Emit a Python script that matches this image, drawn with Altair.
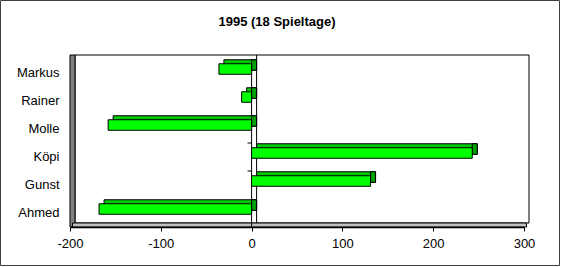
import altair as alt
import pandas as pd

# ---- data ----
players = ["Markus", "Rainer", "Molle", "Köpi", "Gunst", "Ahmed"]
points = [-36, -11, -158, 243, 131, -168]
x_ticks = [-200, -100, 0, 100, 200, 300]
tick_players = ["Köpi", "Gunst"]
title_text = "1995 (18 Spieltage)"

df = pd.DataFrame({"player": players, "points": points})
one = alt.Chart(pd.DataFrame({"k": [0]}))
ticks_df = pd.DataFrame({"player": tick_players})

FONT = "Liberation Sans"
W, H = 454, 168
DX, DY = 5, -4
BAR = 10.5

xs = alt.Scale(domain=[x_ticks[0], x_ticks[-1]], nice=False, zero=False)
ys = alt.Scale(domain=players, paddingInner=0, paddingOuter=0)

x_axis = alt.Axis(values=x_ticks, labelExpr="'' + datum.value", title=None, grid=False,
                  domainColor="black", domainWidth=1.5, tickColor="black", tickSize=4,
                  labelPadding=6, labelFlush=False, labelFont=FONT, labelFontSize=13,
                  labelColor="black", zindex=1)
y_axis = alt.Axis(title=None, domain=False, ticks=False, grid=False, labelPadding=11,
                  labelFont=FONT, labelFontSize=13, labelColor="black", zindex=1)


def X(**kw):
    return alt.X(scale=xs, axis=x_axis, **kw)


def Y(field):
    return alt.Y(field, scale=ys, sort=players, axis=y_axis)


border = one.mark_rect(fill="white", stroke="#404040", strokeWidth=1).encode(
    x=alt.value(-69.5), x2=alt.value(489.5), y=alt.value(-58.5), y2=alt.value(206.5))

title = one.mark_text(text=title_text, font=FONT, fontSize=13, fontWeight="bold",
                      align="center", baseline="alphabetic", color="black").encode(
    x=alt.value(207), y=alt.value(-33))

back_wall = one.mark_rect(fill="white", stroke="black", strokeWidth=1,
                          xOffset=DX, x2Offset=DX, yOffset=DY, y2Offset=DY).encode(
    x=X(datum=x_ticks[0], type="quantitative"),
    x2=alt.X2(datum=x_ticks[-1]), y=alt.value(0), y2=alt.value(H))

floor = one.mark_rect(fill="#c0c0c0", stroke="black", strokeWidth=1,
                      xOffset=2.5, x2Offset=2.5).encode(
    x=X(datum=x_ticks[0], type="quantitative"),
    x2=alt.X2(datum=x_ticks[-1]), y=alt.value(H + DY), y2=alt.value(H))

left_wall = one.mark_rect(fill="#808080", stroke="black", strokeWidth=1,
                          x2Offset=DX, yOffset=DY).encode(
    x=X(datum=x_ticks[0], type="quantitative"),
    x2=alt.X2(datum=x_ticks[0]), y=alt.value(0), y2=alt.value(H))

zero_front = one.mark_rule(color="black", strokeWidth=1).encode(
    x=X(datum=0, type="quantitative"),
    y=alt.value(0), y2=alt.value(H))
zero_back = one.mark_rule(color="black", strokeWidth=1, xOffset=DX, yOffset=DY, y2Offset=DY).encode(
    x=X(datum=0, type="quantitative"),
    y=alt.value(0), y2=alt.value(H))

cat_ticks = alt.Chart(ticks_df).mark_rule(color="black", strokeWidth=1).encode(
    y=alt.Y("player:N", bandPosition=0, scale=ys, sort=players, axis=y_axis),
    x=X(datum=0, type="quantitative"),
    x2=alt.X2(datum=-4.5))

bars = alt.Chart(df)

bar_top = bars.mark_bar(size=BAR, fill="#00C800", stroke="black", strokeWidth=1,
                        xOffset=DX, x2Offset=DX, yOffset=2 * DY, y2Offset=2 * DY).encode(
    y=Y("player:N"),
    x=X(field="points", type="quantitative"),
    x2=alt.X2(datum=0))

bar_side = bars.transform_calculate(right="max(0, datum.points)").mark_bar(
    size=BAR, fill="#00A000", stroke="black", strokeWidth=1,
    x2Offset=DX, yOffset=2 * DY, y2Offset=2 * DY).encode(
    y=Y("player:N"),
    x=X(field="right", type="quantitative"),
    x2=alt.X2("right:Q"))

bar_front = bars.mark_bar(size=BAR, fill="#00FF00", stroke="black", strokeWidth=1,
                          yOffset=DY, y2Offset=DY).encode(
    y=Y("player:N"),
    x=X(field="points", type="quantitative"),
    x2=alt.X2(datum=0))

chart = alt.layer(
    border, title, back_wall, left_wall, floor, zero_front, zero_back, cat_ticks,
    bar_top, bar_side, bar_front
).properties(
    width=W, height=H,
    autosize=alt.AutoSizeParams(type="none"),
    padding={"left": 70, "top": 59, "right": 564 - 70 - W, "bottom": 267 - 59 - H},
    background="white",
).configure_view(stroke=None)

chart.save("out.html", embed_options={"renderer": "svg", "actions": False})
